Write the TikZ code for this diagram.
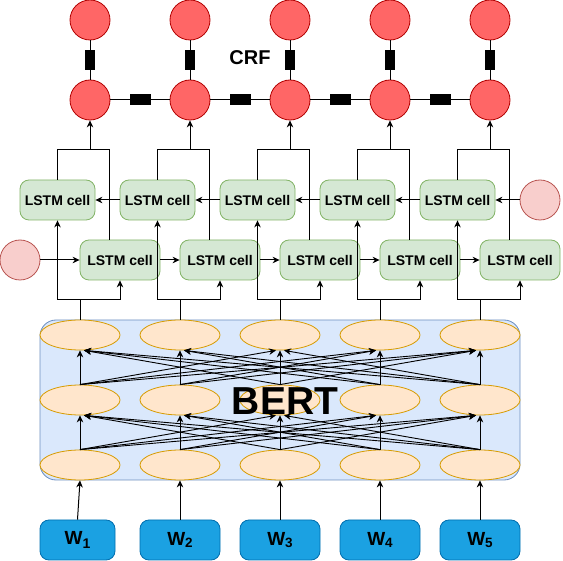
\documentclass[tikz,border=0pt]{standalone}
\usepackage{fontspec}
\setmainfont{Liberation Sans}
\usetikzlibrary{arrows.meta,shapes.geometric}
\definecolor{crffill}{HTML}{FF6666}
\definecolor{crfdraw}{HTML}{B20000}
\definecolor{pinkfill}{HTML}{F8CECC}
\definecolor{pinkdraw}{HTML}{B85450}
\definecolor{lstmfill}{HTML}{D5E8D4}
\definecolor{lstmdraw}{HTML}{82B366}
\definecolor{bertfill}{HTML}{DAE8FC}
\definecolor{bertdraw}{HTML}{6C8EBF}
\definecolor{ellfill}{HTML}{FFE6CC}
\definecolor{elldraw}{HTML}{D79B00}
\definecolor{wfill}{HTML}{1BA1E2}
\definecolor{wdraw}{HTML}{006EAF}
\begin{document}
\begin{tikzpicture}[x=1pt,y=-1pt,
  crf/.style={circle, minimum size=40pt, inner sep=0pt, fill=crffill, draw=crfdraw, line width=0.8pt},
  pinkc/.style={circle, minimum size=40pt, inner sep=0pt, fill=pinkfill, draw=pinkdraw, line width=0.8pt},
  factor/.style={rectangle, fill=black, inner sep=0pt},
  lstm/.style={rectangle, rounded corners=9pt, fill=lstmfill, draw=lstmdraw, line width=0.8pt, minimum height=40pt, inner sep=0pt, font=\fontsize{14}{16}\selectfont\bfseries},
  bertbox/.style={rectangle, rounded corners=16pt, fill=bertfill, draw=bertdraw, line width=0.8pt, minimum width=480pt, minimum height=160pt, inner sep=0pt},
  ell/.style={ellipse, minimum width=80pt, minimum height=30pt, inner sep=0pt, fill=ellfill, draw=elldraw, line width=0.8pt},
  wbox/.style={rectangle, rounded corners=9pt, fill=wfill, draw=wdraw, line width=0.8pt, minimum height=40pt, inner sep=0pt, font=\fontsize{19}{22}\selectfont\bfseries},
  conn/.style={line width=1pt, black},
  arr/.style={line width=1pt, black, -{Stealth[length=7pt,width=6.5pt,inset=2.2pt]}},
  darr/.style={line width=0.9pt, black, -{Stealth[length=7pt,width=6.5pt,inset=2.2pt]}}
]
\useasboundingbox (0,0) rectangle (563,561);

% BERT container
\node[bertbox] (bert) at (280,400) {};

% nodes per column
\foreach \i in {0,...,4}{
  \node[crf] (ct\i) at ({90+100*\i},20) {};
  \node[crf] (cb\i) at ({90+100*\i},100) {};
  \node[lstm, minimum width=75pt] (lt\i) at ({57.5+100*\i},200) {LSTM cell};
  \node[lstm, minimum width=80pt] (lb\i) at ({120+100*\i},260) {LSTM cell};
  \node[ell] (ea\i) at ({80+100*\i},335) {};
  \node[ell] (eb\i) at ({80+100*\i},400) {};
  \node[ell] (ec\i) at ({80+100*\i},465) {};
  \coordinate (jt\i) at ({90+100*\i},150);
  \coordinate (ji\i) at ({80+100*\i},300);
}

\node[pinkc] (pl) at (20,260) {};
\node[pinkc] (pr) at (540,200) {};

% W boxes
\node[wbox, minimum width=75pt] (w0) at (77.5,540) {W\raisebox{-4.5pt}{\fontsize{14}{14}\selectfont 1}};
\node[wbox, minimum width=80pt] (w1) at (180,540) {W\raisebox{-1.5pt}{\fontsize{13.5}{14}\selectfont 2}};
\node[wbox, minimum width=80pt] (w2) at (280,540) {W\raisebox{-1.5pt}{\fontsize{13.5}{14}\selectfont 3}};
\node[wbox, minimum width=80pt] (w3) at (380,540) {W\raisebox{-1.5pt}{\fontsize{13.5}{14}\selectfont 4}};
\node[wbox, minimum width=80pt] (w4) at (480,540) {W\raisebox{-1.5pt}{\fontsize{13.5}{14}\selectfont 5}};

% CRF vertical factors and links
\foreach \i in {0,...,4}{
  \draw[conn] (ct\i) -- (cb\i);
  \node[factor, minimum width=10pt, minimum height=20pt] (fv\i) at ({90+100*\i},60) {};
}
\foreach \i/\j in {0/1,1/2,2/3,3/4}{
  \draw[conn] (cb\i) -- (cb\j);
  \node[factor, minimum width=21pt, minimum height=11pt] (fh\i) at ({140+100*\i},100) {};
}
\node[font=\fontsize{20}{22}\selectfont\bfseries] (crftxt) at (250,58) {CRF};

% LSTM outputs to CRF
\foreach \i in {0,...,4}{
  \draw[conn] (lt\i.north) |- (jt\i);
  \draw[conn] ([xshift=30pt]lb\i.north west) |- (jt\i);
  \draw[arr] (jt\i) -- (cb\i.south);
  % inputs from BERT
  \draw[conn] (ea\i.north) -- (ji\i);
  \draw[arr] (ji\i) -| (lt\i.south);
  \draw[arr] (ji\i) -| (lb\i.south);
}

% recurrent arrows
\draw[arr] (pr.west) -- (lt4.east);
\foreach \i/\j in {1/0,2/1,3/2,4/3}{
  \draw[arr] (lt\i.west) -- (lt\j.east);
}
\draw[arr] (pl.east) -- (lb0.west);
\foreach \i/\j in {0/1,1/2,2/3,3/4}{
  \draw[arr] (lb\i.east) -- (lb\j.west);
}

% BERT internal connections
\foreach \i in {0,...,4}{
  \draw[darr] (eb\i.north) -- (ea\i.south);
  \draw[darr] (ec\i.north) -- (eb\i.south);
  \foreach \j in {0,...,4}{
    \pgfmathtruncatemacro\dd{abs(\i-\j)}
    \pgfmathsetmacro\ss{(\j>\i)?-4:4}
    \ifnum\dd>1
      \draw[darr] (eb\i.north) -- ([xshift=\ss pt]ea\j.south);
      \draw[darr] (ec\i.north) -- ([xshift=\ss pt]eb\j.south);
    \fi
  }
}

% W to BERT
\foreach \i in {0,...,4}{
  \draw[arr] (w\i.north) -- (ec\i.south);
}

\node[font=\fontsize{39}{40}\selectfont\bfseries] (berttxt) at (285,401) {BERT};
\end{tikzpicture}
\end{document}
